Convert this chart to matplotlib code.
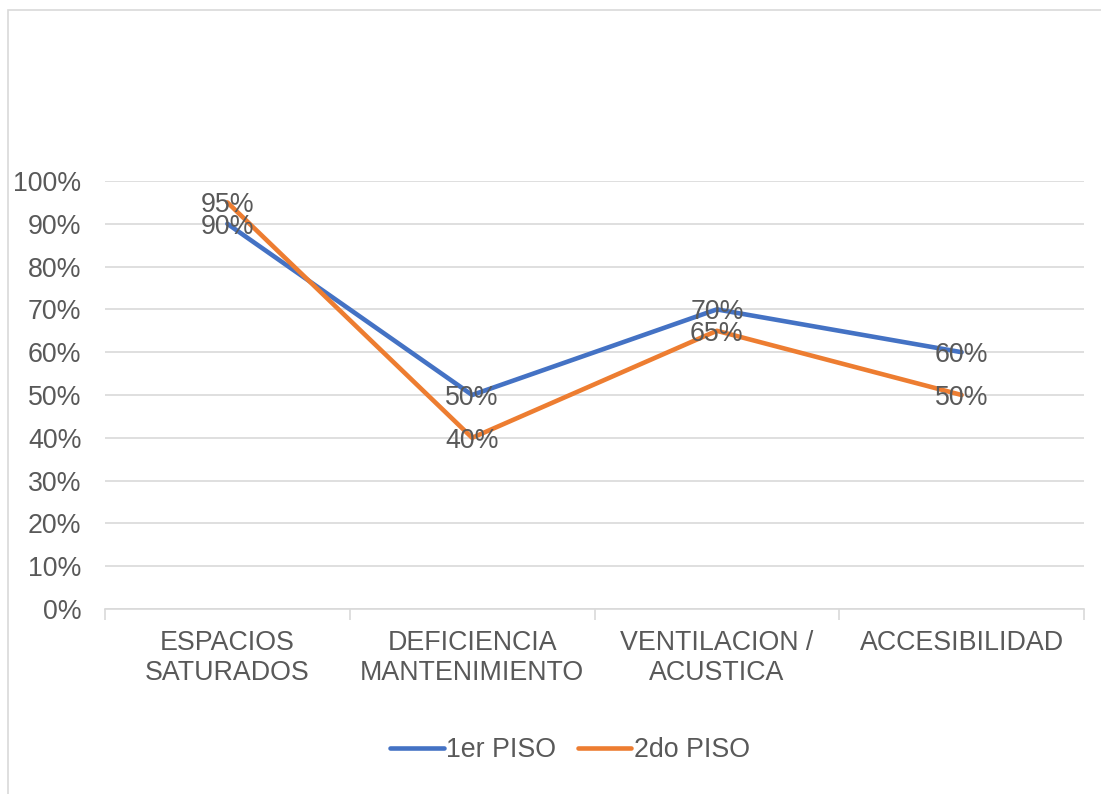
import matplotlib.pyplot as plt
from matplotlib.patches import Rectangle
from matplotlib.ticker import FixedLocator, PercentFormatter

plt.rcParams['font.family'] = ['Liberation Sans', 'DejaVu Sans']

# datos
categorias = ['ESPACIOS\nSATURADOS', 'DEFICIENCIA\nMANTENIMIENTO',
              'VENTILACION /\nACUSTICA', 'ACCESIBILIDAD']
piso1 = [90, 50, 70, 60]
piso2 = [95, 40, 65, 50]
series = ['1er PISO', '2do PISO']

gris = '#595959'
fs = 19.3
W, H = 1101, 794
fig = plt.figure(figsize=(W / 100, H / 100), dpi=100)

# borde del grafico (solo se ven izquierda y arriba)
fig.patches.append(Rectangle((8 / W, -0.1), 1.2, 1 - 10 / H + 0.1,
                             transform=fig.transFigure, fill=False,
                             edgecolor='#D9D9D9', linewidth=1.2))

ax = fig.add_axes([105 / W, 1 - 609 / H, (1084 - 105) / W, (609 - 181) / H])
x = range(len(categorias))
ax.plot(x, piso1, color='#4472C4', lw=3.3, solid_capstyle='round', label=series[0], zorder=3)
ax.plot(x, piso2, color='#ED7D31', lw=3.3, solid_capstyle='round', label=series[1], zorder=3)

for xi, v in zip(x, piso1):
    ax.text(xi, v, f'{v}%', ha='center', va='center_baseline', fontsize=fs, color=gris, zorder=4)
for xi, v in zip(x, piso2):
    ax.text(xi, v, f'{v}%', ha='center', va='center_baseline', fontsize=fs, color=gris, zorder=4)

ax.set_xlim(-0.5, 3.5)
ax.set_ylim(0, 100)
ax.set_yticks(range(0, 101, 10))
ax.yaxis.set_major_formatter(PercentFormatter(decimals=0))
ax.grid(axis='y', color='#D9D9D9', lw=1.2)
ax.set_axisbelow(True)

ax.set_xticks(list(x))
ax.set_xticklabels(categorias, fontsize=fs, color=gris, linespacing=1.2)
ax.xaxis.set_minor_locator(FixedLocator([-0.5, 0.5, 1.5, 2.5, 3.5]))
ax.tick_params(axis='x', which='major', length=0, pad=15)
ax.tick_params(axis='x', which='minor', length=8, color='#D9D9D9', width=1.2)
ax.tick_params(axis='y', length=0, labelsize=fs, labelcolor=gris, pad=17)

for s in ['top', 'right', 'left']:
    ax.spines[s].set_visible(False)
ax.spines['bottom'].set_color('#D9D9D9')
ax.spines['bottom'].set_linewidth(1.2)

fig.legend(loc='center', bbox_to_anchor=(570 / W, 1 - 750 / H), ncol=2, frameon=False,
           fontsize=fs, labelcolor=gris, handlelength=2.0, handletextpad=0.1,
           columnspacing=0.8)

fig.savefig('out.png', dpi=100)
